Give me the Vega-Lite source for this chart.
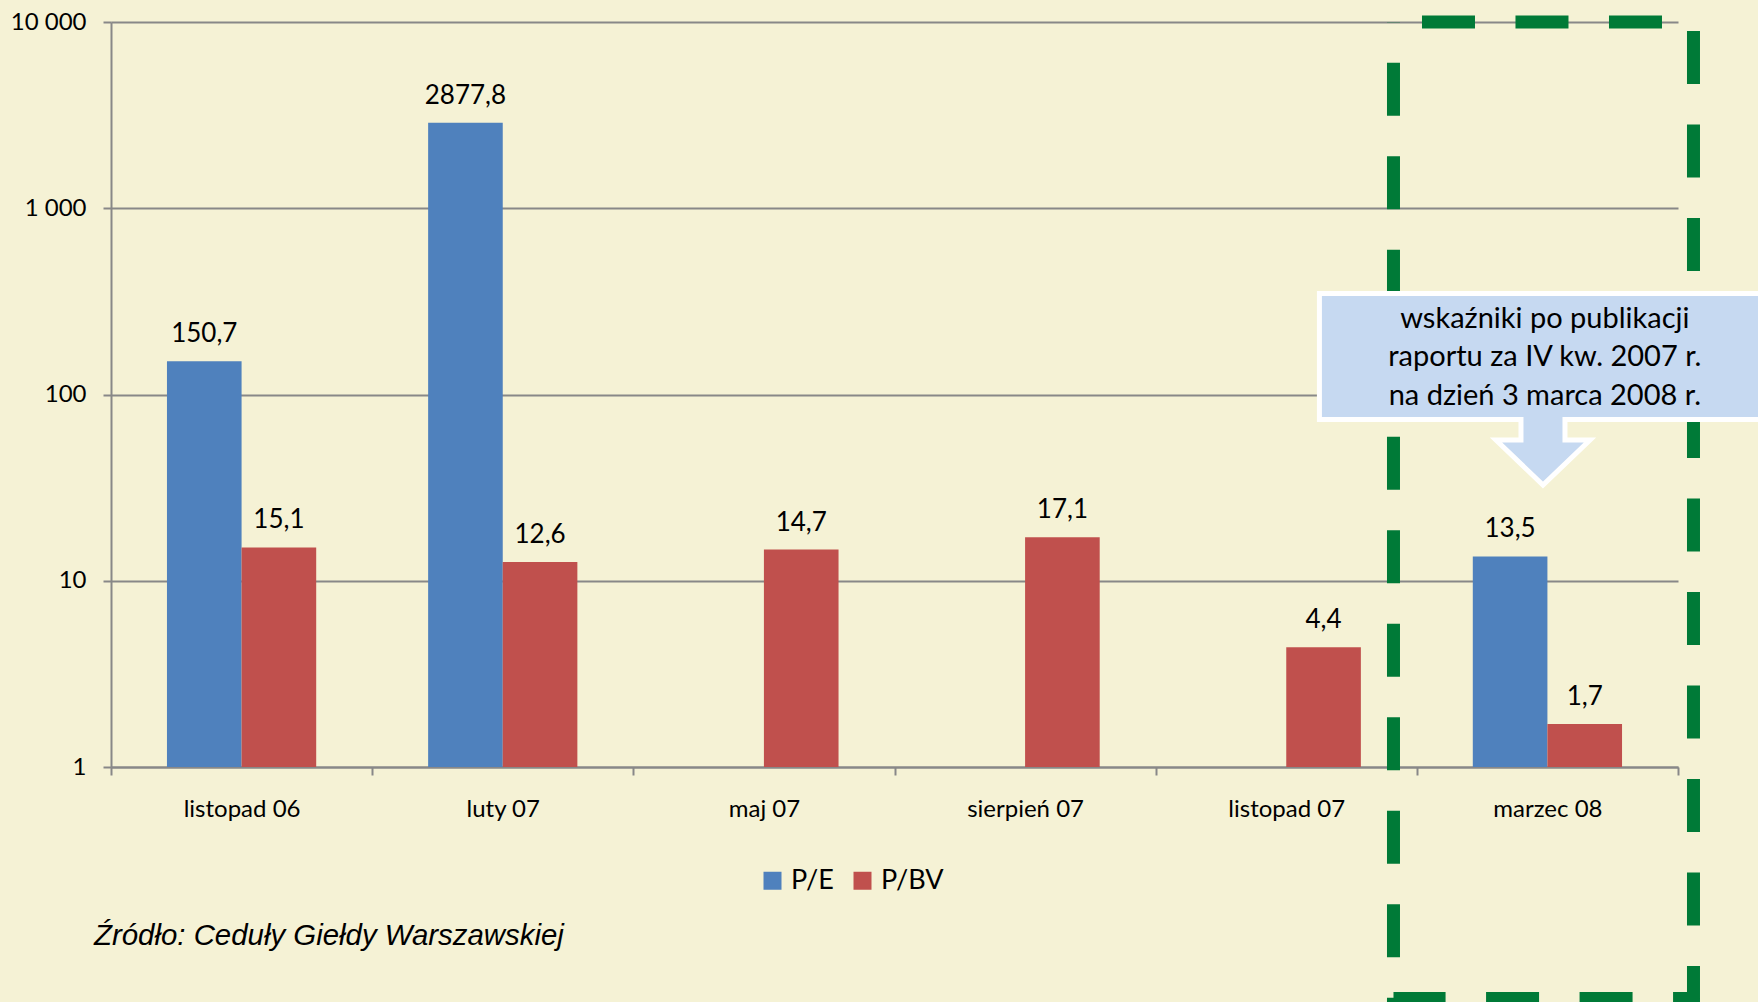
{
  "$schema": "https://vega.github.io/schema/vega-lite/v6.json",
  "width": 1567,
  "height": 745,
  "autosize": {"type": "none"},
  "padding": {"left": 111, "top": 22, "right": 80, "bottom": 235},
  "background": "#f5f2d5",
  "config": {"view": {"stroke": null}, "font": "Lato"},
  "layer": [
    {
      "data": {
        "values": [
          {"cat": "listopad 06", "series": "P/E", "value": 150.7},
          {"cat": "listopad 06", "series": "P/BV", "value": 15.1},
          {"cat": "luty 07", "series": "P/E", "value": 2877.8},
          {"cat": "luty 07", "series": "P/BV", "value": 12.6},
          {"cat": "maj 07", "series": "P/BV", "value": 14.7},
          {"cat": "sierpień 07", "series": "P/BV", "value": 17.1},
          {"cat": "listopad 07", "series": "P/BV", "value": 4.4},
          {"cat": "marzec 08", "series": "P/E", "value": 13.5},
          {"cat": "marzec 08", "series": "P/BV", "value": 1.7}
        ]
      },
      "transform": [
        {"calculate": "replace(format(datum.value, '.1f'), '.', ',')", "as": "label"}
      ],
      "encoding": {
        "x": {
          "field": "cat",
          "type": "nominal",
          "sort": ["listopad 06", "luty 07", "maj 07", "sierpień 07", "listopad 07", "marzec 08"],
          "scale": {"paddingInner": 0, "paddingOuter": 0},
          "axis": {
            "title": null,
            "labelAngle": 0,
            "tickBand": "extent",
            "tickSize": 8,
            "tickColor": "#888888",
            "tickWidth": 2,
            "domainColor": "#888888",
            "domainWidth": 2,
            "labelFontSize": 24,
            "labelPadding": 22,
            "labelColor": "black",
            "labelFont": "Lato"
          }
        },
        "xOffset": {
          "field": "series",
          "type": "nominal",
          "scale": {"domain": ["P/E", "P/BV"], "paddingInner": 0, "paddingOuter": 0.75}
        },
        "y": {
          "field": "value",
          "type": "quantitative",
          "scale": {"type": "log", "domain": [1, 10000], "nice": false},
          "axis": {
            "title": null,
            "values": [1, 10, 100, 1000, 10000],
            "labelExpr": "datum.value >= 1000 ? replace(format(datum.value, ','), ',', ' ') : datum.label",
            "grid": true,
            "gridColor": "#888888",
            "gridWidth": 2,
            "tickSize": 8,
            "tickColor": "#888888",
            "tickWidth": 2,
            "domainColor": "#888888",
            "domainWidth": 2,
            "labelFontSize": 24,
            "labelPadding": 17,
            "labelColor": "black",
            "labelFont": "Lato"
          }
        }
      },
      "layer": [
        {
          "mark": {"type": "bar", "opacity": 1},
          "encoding": {
            "y2": {"datum": 1},
            "color": {
              "field": "series",
              "type": "nominal",
              "scale": {"domain": ["P/E", "P/BV"], "range": ["#4f81bd", "#c0504d"]},
              "legend": {
                "orient": "none",
                "legendX": 648,
                "legendY": 845,
                "direction": "horizontal",
                "title": null,
                "symbolType": "square",
                "symbolSize": 324,
                "symbolStrokeWidth": 0,
                "symbolOpacity": 1,
                "labelFontSize": 27,
                "labelFont": "Lato",
                "labelOffset": 5,
                "columnPadding": 15,
                "labelColor": "black",
                "padding": 0
              }
            }
          }
        },
        {
          "mark": {"type": "text", "baseline": "alphabetic", "dy": -19, "fontSize": 26, "color": "black", "font": "Lato"},
          "encoding": {"text": {"field": "label"}}
        }
      ]
    },
    {
      "data": {"values": [{}]},
      "mark": {
        "type": "rect",
        "fill": "white",
        "fillOpacity": 0,
        "stroke": "#007a37",
        "strokeWidth": 13,
        "strokeDash": [53, 40.5],
        "strokeDashOffset": 65
      },
      "encoding": {
        "x": {"datum": 4.9106, "type": "quantitative", "scale": {"domain": [0, 6], "nice": false, "zero": false}, "axis": null},
        "x2": {"datum": 6.0593},
        "y": {"datum": 10000, "type": "quantitative"},
        "y2": {"datum": 0.0571}
      }
    },
    {
      "data": {"values": [{}]},
      "mark": {"type": "rect", "fill": "#c6d9f1", "stroke": "white", "strokeWidth": 5},
      "encoding": {
        "x": {"datum": 4.627, "type": "quantitative", "scale": {"domain": [0, 6], "nice": false, "zero": false}, "axis": null},
        "x2": {"datum": 6.6},
        "y": {"datum": 348.6, "type": "quantitative"},
        "y2": {"datum": 73.4}
      }
    },
    {
      "data": {"values": [{}]},
      "mark": {
        "type": "point",
        "shape": "M -22 0 L -22 23 L -47 23 L 0 68 L 47 23 L 22 23 L 22 0",
        "size": 4,
        "filled": true,
        "fill": "#c6d9f1",
        "stroke": "white",
        "strokeWidth": 5,
        "opacity": 1,
        "fillOpacity": 1,
        "strokeOpacity": 1
      },
      "encoding": {
        "x": {"datum": 5.483, "type": "quantitative", "scale": {"domain": [0, 6], "nice": false, "zero": false}, "axis": null},
        "y": {"datum": 75.7, "type": "quantitative"}
      }
    },
    {
      "data": {"values": [{}]},
      "mark": {
        "type": "text",
        "align": "center",
        "baseline": "alphabetic",
        "fontSize": 29,
        "lineHeight": 38.5,
        "font": "Lato",
        "color": "black"
      },
      "encoding": {
        "x": {"datum": 5.49, "type": "quantitative", "scale": {"domain": [0, 6], "nice": false, "zero": false}, "axis": null},
        "y": {"datum": 227.6, "type": "quantitative"},
        "text": {"value": ["wskaźniki po publikacji", "raportu za IV kw. 2007 r.", "na dzień 3 marca 2008 r."]}
      }
    },
    {
      "data": {"values": [{}]},
      "mark": {
        "type": "text",
        "align": "left",
        "baseline": "alphabetic",
        "fontSize": 29.4,
        "font": "Liberation Sans",
        "fontStyle": "italic",
        "color": "black"
      },
      "encoding": {
        "x": {"datum": -0.0651, "type": "quantitative", "scale": {"domain": [0, 6], "nice": false, "zero": false}, "axis": null},
        "y": {"datum": 0.1107, "type": "quantitative"},
        "text": {"value": "Źródło: Ceduły Giełdy Warszawskiej"}
      }
    }
  ],
  "resolve": {"scale": {"x": "independent"}}
}
